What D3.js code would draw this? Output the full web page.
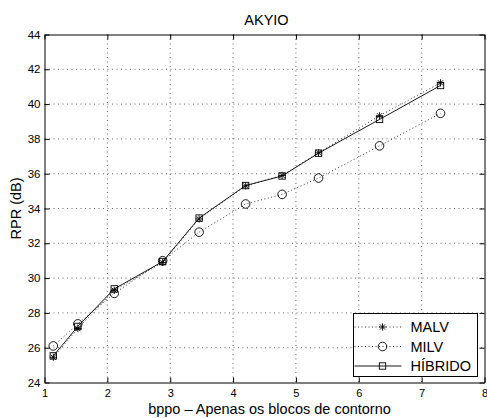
<!DOCTYPE html>
<html>
<head>
<meta charset="utf-8">
<script src="https://cdn.jsdelivr.net/npm/d3@7"></script>
<style>
  body { margin: 0; background: #fff; }
  svg { display: block; font-family: 'Liberation Sans', Arial, sans-serif; }
</style>
</head>
<body>
<div id="chart"></div>
<script>
// data
const bppo = [1.14, 1.53, 2.11, 2.88, 3.46, 4.20, 4.78, 5.36, 6.33, 7.30]
const malv = [25.45, 27.1, 29.3, 30.9, 33.4, 35.3, 35.9, 37.2, 39.33, 41.22]
const milv = [26.1, 27.37, 29.12, 31.0, 32.64, 34.26, 34.81, 35.75, 37.6, 39.47]
const hibrido = [25.53, 27.22, 29.38, 30.95, 33.45, 35.32, 35.87, 37.18, 39.12, 41.07]
const xTicks = [1, 2, 3, 4, 5, 6, 7, 8]
const yTicks = [24, 26, 28, 30, 32, 34, 36, 38, 40, 42, 44]

const width = 487
const height = 418
const margin = { top: 34.5, right: 2.5, bottom: 35.5, left: 44.5 }
const plotW = width - margin.left - margin.right
const plotH = height - margin.top - margin.bottom

const svg = d3.select('#chart').append('svg')
  .attr('width', width)
  .attr('height', height)

const plot = svg.append('g')
  .attr('transform', `translate(${margin.left}, ${margin.top})`)

// scales
const x = d3.scaleLinear().domain([1, 8]).range([0, plotW])
const y = d3.scaleLinear().domain([24, 44]).range([plotH, 0])

// grid
plot.append('g').selectAll('line')
  .data(xTicks.slice(1, -1))
  .join('line')
  .attr('x1', d => x(d)).attr('x2', d => x(d))
  .attr('y1', 0).attr('y2', plotH)
  .attr('stroke', '#000').attr('stroke-width', 0.6)
  .attr('stroke-dasharray', '1,3.5')

plot.append('g').selectAll('line')
  .data(yTicks.slice(1, -1))
  .join('line')
  .attr('x1', 0).attr('x2', plotW)
  .attr('y1', d => y(d)).attr('y2', d => y(d))
  .attr('stroke', '#000').attr('stroke-width', 0.6)
  .attr('stroke-dasharray', '1,3.5')

// axes, ticks inward on all sides
const tickLen = 5
const fmt = d3.format('d')
const axisBottom = plot.append('g')
  .attr('transform', `translate(0, ${plotH})`)
  .call(d3.axisBottom(x).tickValues(xTicks).tickFormat(fmt).tickSizeInner(-tickLen).tickSizeOuter(0).tickPadding(6.5))
const axisTop = plot.append('g')
  .call(d3.axisTop(x).tickValues(xTicks).tickSizeInner(-tickLen).tickSizeOuter(0).tickFormat(''))
const axisLeft = plot.append('g')
  .call(d3.axisLeft(y).tickValues(yTicks).tickFormat(fmt).tickSizeInner(-tickLen).tickSizeOuter(0).tickPadding(8))
const axisRight = plot.append('g')
  .attr('transform', `translate(${plotW}, 0)`)
  .call(d3.axisRight(y).tickValues(yTicks).tickSizeInner(-tickLen).tickSizeOuter(0).tickFormat(''))

;[axisBottom, axisTop, axisLeft, axisRight].forEach(a => {
  a.select('.domain').attr('stroke', '#000').attr('stroke-width', 1)
  a.selectAll('.tick line').attr('stroke', '#000')
  a.selectAll('text').attr('font-size', '11.5px').attr('fill', '#000')
    .attr('font-family', "'Liberation Sans', Arial, sans-serif")
})
axisBottom.selectAll('text').attr('font-size', '11px').attr('dy', '0.71em')
axisLeft.selectAll('text').attr('dx', '4px')

// title and axis labels
svg.append('text')
  .attr('x', margin.left + plotW / 2 + 2)
  .attr('y', 25)
  .attr('text-anchor', 'middle')
  .attr('font-size', '14.5px')
  .text('AKYIO')

svg.append('text')
  .attr('x', margin.left + plotW / 2 + 5)
  .attr('y', 414)
  .attr('text-anchor', 'middle')
  .attr('font-size', '14.5px')
  .text('bppo – Apenas os blocos de contorno')

svg.append('text')
  .attr('transform', `translate(21, ${margin.top + plotH / 2}) rotate(-90)`)
  .attr('text-anchor', 'middle')
  .attr('font-size', '14.5px')
  .text('RPR (dB)')

// markers
const star = (g, s) => {
  const d = s * 0.72
  g.append('path')
    .attr('d', `M${-s},0L${s},0M0,${-s}L0,${s}M${-d},${-d}L${d},${d}M${-d},${d}L${d},${-d}`)
    .attr('stroke', '#000').attr('stroke-width', 0.9).attr('fill', 'none')
}
const circle = (g, s) => {
  g.append('circle').attr('r', s).attr('fill', 'none')
    .attr('stroke', '#000').attr('stroke-width', 0.9)
}
const square = (g, s) => {
  g.append('rect').attr('x', -s).attr('y', -s).attr('width', 2 * s).attr('height', 2 * s)
    .attr('fill', 'none').attr('stroke', '#000').attr('stroke-width', 0.9)
}

const series = [
  { name: 'MALV', values: malv, dash: '1,2.5', marker: star, size: 3.6 },
  { name: 'MILV', values: milv, dash: '1,2.5', marker: circle, size: 4.3 },
  { name: 'HÍBRIDO', values: hibrido, dash: null, marker: square, size: 3.2 },
]

const line = d3.line().x(d => x(d[0])).y(d => y(d[1]))

series.forEach(s => {
  const pts = bppo.map((b, i) => [b, s.values[i]])
  plot.append('path')
    .datum(pts)
    .attr('d', line)
    .attr('fill', 'none')
    .attr('stroke', '#000')
    .attr('stroke-width', s.dash ? 0.8 : 0.9)
    .attr('stroke-dasharray', s.dash)
  pts.forEach(p => {
    const g = plot.append('g').attr('transform', `translate(${x(p[0])}, ${y(p[1])})`)
    s.marker(g, s.size)
  })
})

// legend
const legend = svg.append('g').attr('transform', 'translate(353.5, 313.5)')
legend.append('rect')
  .attr('width', 124).attr('height', 63)
  .attr('fill', '#fff').attr('stroke', '#000').attr('stroke-width', 1)

series.forEach((s, i) => {
  const ly = 13.5 + i * 19.5
  legend.append('line')
    .attr('x1', 1).attr('x2', 48).attr('y1', ly).attr('y2', ly)
    .attr('stroke', '#000').attr('stroke-width', s.dash ? 0.8 : 0.9)
    .attr('stroke-dasharray', s.dash)
  const g = legend.append('g').attr('transform', `translate(29, ${ly})`)
  s.marker(g, s.size)
  legend.append('text')
    .attr('x', 57).attr('y', ly + 5)
    .attr('font-size', '14.5px')
    .text(s.name)
})
</script>
</body>
</html>
